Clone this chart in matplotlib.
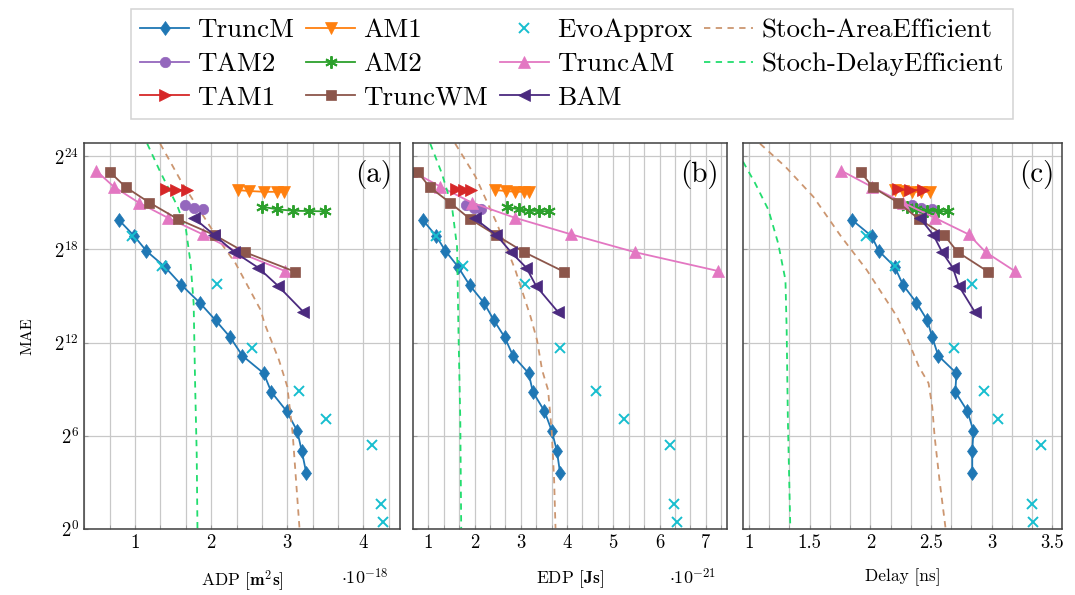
import numpy as np
import matplotlib.pyplot as plt
from matplotlib.ticker import MultipleLocator, AutoMinorLocator, FormatStrFormatter, NullLocator

plt.rcParams['font.family'] = 'serif'
plt.rcParams['font.serif'] = ['cmr10', 'DejaVu Serif']
plt.rcParams['mathtext.fontset'] = 'cm'
plt.rcParams['axes.formatter.use_mathtext'] = True

truncm_e = [19.88, 18.85, 17.89, 16.88, 15.70, 14.56, 13.42, 12.34, 11.15, 10.02, 8.82, 7.59, 6.31, 5.02, 3.58]
truncm_adp = [0.79, 0.99, 1.15, 1.39, 1.61, 1.85, 2.06, 2.25, 2.41, 2.69, 2.79, 2.99, 3.13, 3.19, 3.25]
truncm_edp = [0.88, 1.17, 1.37, 1.64, 1.89, 2.20, 2.42, 2.65, 2.83, 3.17, 3.26, 3.51, 3.67, 3.78, 3.85]
truncm_delay = [1.85, 2.01, 2.07, 2.20, 2.27, 2.38, 2.47, 2.51, 2.56, 2.71, 2.70, 2.80, 2.85, 2.84, 2.84]

am1_e = [21.81, 21.75, 21.70, 21.70, 21.70]
am1_adp = [2.35, 2.50, 2.70, 2.87, 2.96]
am1_edp = [2.45, 2.68, 2.88, 3.07, 3.18]
am1_delay = [2.20, 2.27, 2.34, 2.42, 2.49]

evo_e = [18.85, 16.93, 15.75, 11.67, 8.88, 7.06, 5.39, 1.59, 0.47]
evo_adp = [0.96, 1.35, 2.08, 2.54, 3.16, 3.51, 4.11, 4.23, 4.26]
evo_edp = [1.17, 1.75, 3.10, 3.85, 4.62, 5.24, 6.22, 6.31, 6.37]
evo_delay = [1.96, 2.20, 2.84, 2.69, 2.94, 3.05, 3.41, 3.33, 3.34]

tam2_e = [20.83, 20.66, 20.59]
tam2_adp = [1.66, 1.78, 1.89]
tam2_edp = [1.82, 1.98, 2.13]
tam2_delay = [2.34, 2.42, 2.51]

am2_e = [20.74, 20.57, 20.48, 20.46, 20.44]
am2_adp = [2.67, 2.87, 3.08, 3.29, 3.50]
am2_edp = [2.70, 2.95, 3.17, 3.39, 3.61]
am2_delay = [2.30, 2.38, 2.47, 2.56, 2.64]

truncam_e = [23.06, 22.03, 21.00, 20.03, 18.96, 17.82, 16.60]
truncam_adp = [0.49, 0.72, 1.05, 1.43, 1.89, 2.35, 2.97]
truncam_edp = [0.62, 1.26, 1.94, 2.87, 4.09, 5.46, 7.27]
truncam_delay = [1.76, 2.01, 2.27, 2.53, 2.81, 2.95, 3.19]

tam1_e = [21.86, 21.81, 21.81]
tam1_adp = [1.41, 1.54, 1.68]
tam1_edp = [1.60, 1.77, 1.93]
tam1_delay = [2.23, 2.33, 2.43]

truncwm_e = [22.97, 21.99, 21.00, 19.95, 18.90, 17.82, 16.56]
truncwm_adp = [0.67, 0.88, 1.19, 1.56, 2.05, 2.44, 3.10]
truncwm_edp = [0.77, 1.03, 1.47, 1.90, 2.47, 3.07, 3.93]
truncwm_delay = [1.92, 2.02, 2.23, 2.40, 2.61, 2.72, 2.97]

bam_e = [19.99, 18.92, 17.84, 16.81, 15.64, 13.98]
bam_adp = [1.78, 2.04, 2.30, 2.62, 2.88, 3.21]
bam_edp = [2.00, 2.47, 2.78, 3.12, 3.33, 3.80]
bam_delay = [2.41, 2.52, 2.59, 2.68, 2.73, 2.86]

#* stochastic reference curves (each panel sampled separately)
area_adp_x = [1.33, 1.62, 2.10, 2.32, 2.65, 2.70, 2.89, 3.00, 3.07, 3.16]
area_adp_e = [24.8, 22.25, 18.6, 17.1, 14.09, 13.24, 10.88, 9.16, 6.16, 0.05]
area_edp_x = [1.58, 2.02, 2.48, 2.88, 3.21, 3.35, 3.46, 3.59, 3.67, 3.72, 3.75]
area_edp_e = [24.8, 22.67, 19.67, 16.67, 13.66, 12.16, 10.23, 8.94, 6.16, 3.15, 0.05]
area_delay_x = [1.09, 1.30, 1.53, 1.76, 1.97, 2.22, 2.31, 2.40, 2.48, 2.51, 2.53, 2.57, 2.62]
area_delay_e = [24.8, 23.31, 21.38, 18.81, 16.67, 13.66, 12.16, 10.44, 9.38, 7.87, 5.94, 3.15, 0.05]

dly_adp_x = [1.16, 1.32, 1.56, 1.67, 1.73, 1.77, 1.79, 1.81, 1.82]
dly_adp_e = [24.8, 23.1, 20.74, 19.24, 17.1, 14.52, 9.16, 4.87, 0.05]
dly_edp_x = [1.04, 1.29, 1.51, 1.62, 1.65, 1.69, 1.71]
dly_edp_e = [24.8, 22.89, 20.74, 18.16, 12.8, 7.0, 0.05]
dly_delay_x = [0.95, 1.05, 1.16, 1.24, 1.30, 1.31, 1.32, 1.34]
dly_delay_e = [23.64, 22.25, 20.53, 18.38, 16.02, 12.8, 7.0, 0.05]

y_tick_exp = [0, 6, 12, 18, 24]

diamond = [(0, 1), (0.72, 0), (0, -1), (-0.72, 0), (0, 1)]
asterisk = (6, 2, 0)

# plotting order = pgfplots order (legend is filled row-wise there)
series = [
    # name, exps, x per panel, color, marker, ms, ls
    ('TruncM', truncm_e, (truncm_adp, truncm_edp, truncm_delay), '#1f77b4', diamond, 10, '-'),
    ('AM1', am1_e, (am1_adp, am1_edp, am1_delay), '#ff7f0e', 'v', 8.5, '-'),
    ('EvoApprox', evo_e, (evo_adp, evo_edp, evo_delay), '#17becf', 'x', 6.5, 'none'),
    ('Stoch-AreaEfficient', None, ((area_adp_x, area_adp_e), (area_edp_x, area_edp_e), (area_delay_x, area_delay_e)), '#cc9670', None, 0, '--'),
    ('TAM2', tam2_e, (tam2_adp, tam2_edp, tam2_delay), '#9467bd', 'o', 7.5, '-'),
    ('AM2', am2_e, (am2_adp, am2_edp, am2_delay), '#2ca02c', asterisk, 9, '-'),
    ('TruncAM', truncam_e, (truncam_adp, truncam_edp, truncam_delay), '#e377c2', '^', 8.5, '-'),
    ('Stoch-DelayEfficient', None, ((dly_adp_x, dly_adp_e), (dly_edp_x, dly_edp_e), (dly_delay_x, dly_delay_e)), '#22dd6e', None, 0, '--'),
    ('TAM1', tam1_e, (tam1_adp, tam1_edp, tam1_delay), '#d62728', '>', 8.5, '-'),
    ('TruncWM', truncwm_e, (truncwm_adp, truncwm_edp, truncwm_delay), '#8c564b', 's', 7.5, '-'),
    ('BAM', bam_e, (bam_adp, bam_edp, bam_delay), '#4b2a7f', '<', 8.5, '-'),
]

W, H = 1075, 595
fig = plt.figure(figsize=(W / 100, H / 100), dpi=100)
boxes = [(84, 400), (413, 727), (743, 1062)]
top_px, bot_px = 143, 529
axes = [fig.add_axes([l / W, 1 - bot_px / H, (r - l) / W, (bot_px - top_px) / H]) for l, r in boxes]

xlims = [(0.33, 4.48), (0.667, 7.46), (0.95, 3.58)]
xmajor = [1, 1, 0.5]
tags = ['(a)', '(b)', '(c)']
xlabels = [r'ADP [$\mathbf{m^2s}$]', r'EDP [$\mathbf{Js}$]', 'Delay [ns]']
offsets = [r'$\cdot 10^{-18}$', r'$\cdot 10^{-21}$', None]

handles = {}
for i, ax in enumerate(axes):
    for name, exps, xs, col, mk, ms, ls in series:
        if exps is None:
            x, e = xs[i]
            h, = ax.plot(x, np.power(2.0, e), ls='--', dashes=(3.5, 3), color=col, lw=1.3, label=name)
        else:
            mew = 1.4 if mk in ('x', asterisk) else 0.5
            h, = ax.plot(xs[i], np.power(2.0, exps), ls=ls, color=col, lw=1.3, marker=mk,
                         markersize=ms, markeredgewidth=mew, markeredgecolor=col, label=name)
        handles[name] = h

    ax.set_yscale('log', base=2)
    ax.set_ylim(1, 2 ** 24.84)
    ax.set_yticks([2.0 ** k for k in y_tick_exp])
    ax.set_yticklabels([r'$2^{%d}$' % k for k in y_tick_exp])
    ax.yaxis.set_minor_locator(NullLocator())
    ax.set_xlim(*xlims[i])
    ax.xaxis.set_major_locator(MultipleLocator(xmajor[i]))
    ax.xaxis.set_minor_locator(AutoMinorLocator(3))
    ax.xaxis.set_major_formatter(FormatStrFormatter('%g'))
    ax.grid(which='both', color='#c8c8c8', lw=0.9)
    ax.set_axisbelow(True)
    ax.tick_params(which='both', direction='in', length=3, color='#999999', labelsize=13.5)
    for s in ax.spines.values():
        s.set_color('#404040')
        s.set_linewidth(1.1)
    if i > 0:
        ax.tick_params(labelleft=False)
    ax.set_xlabel(xlabels[i], fontsize=12.5, labelpad=12)
    ax.text(0.975, 0.955, tags[i], transform=ax.transAxes, ha='right', va='top', fontsize=21)
    if offsets[i]:
        ax.text(0.89, -0.125, offsets[i], transform=ax.transAxes, ha='center', va='center', fontsize=13)

axes[0].set_ylabel('MAE', fontsize=11.5, labelpad=14)

# column-wise order for matplotlib so rows read like the original
order = ['TruncM', 'TAM2', 'TAM1', 'AM1', 'AM2', 'TruncWM', 'EvoApprox', 'TruncAM', 'BAM',
         'Stoch-AreaEfficient', 'Stoch-DelayEfficient']
leg = fig.legend([handles[n] for n in order], order, loc='upper center', bbox_to_anchor=(0.532, 0.985),
                 ncol=4, fontsize=19.5, frameon=True, fancybox=False, edgecolor='#c8c8c8',
                 handlelength=1.8, handletextpad=0.3, columnspacing=0.45, labelspacing=0.36,
                 borderpad=0.35, borderaxespad=0)
leg.get_frame().set_linewidth(1.1)

plt.savefig('out.png', dpi=100)
